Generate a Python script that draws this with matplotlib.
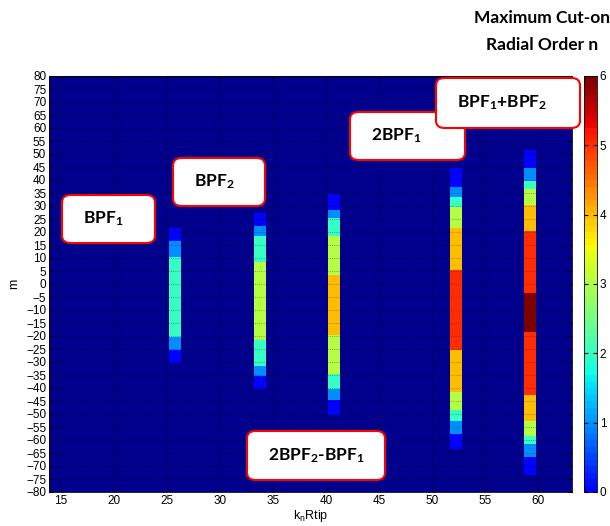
import numpy as np
import matplotlib
matplotlib.use("Agg")
import matplotlib.pyplot as plt
from matplotlib.colors import ListedColormap, Normalize
from matplotlib.patches import FancyBboxPatch
from matplotlib.colorbar import ColorbarBase

plt.rcParams["font.family"] = ["Liberation Sans", "DejaVu Sans"]
plt.rcParams["mathtext.fontset"] = "custom"
plt.rcParams["mathtext.rm"] = "Lato:bold"
plt.rcParams["mathtext.it"] = "Lato:bold"
plt.rcParams["mathtext.bf"] = "Lato:bold"

# kR position of each tone and its runs of (max radial order n, m top, m bottom)
kr_centers = [25.75, 33.8, 40.75, 52.3, 59.25]
bpf1 = [(0, 21, 17), (1, 16, 11), (2, 10, -20), (1, -21, -25), (0, -26, -30)]
bpf2 = [(0, 27, 23), (1, 22, 19), (2, 18, 9), (3, 8, -21), (2, -22, -31),
        (1, -32, -35), (0, -36, -40)]
bpf2x2_m_bpf1 = [(0, 34, 29), (1, 28, 26), (2, 25, 19), (3, 18, 4), (4, 3, -19),
                 (3, -20, -34), (2, -35, -40), (1, -41, -44), (0, -45, -50)]
bpf1x2 = [(0, 44, 38), (1, 37, 34), (2, 33, 30), (3, 29, 22), (4, 21, 6),
          (5, 5, -25), (4, -26, -41), (3, -42, -48), (2, -49, -52),
          (1, -53, -57), (0, -58, -63)]
bpf1_p_bpf2 = [(0, 51, 45), (1, 44, 40), (2, 39, 37), (3, 36, 31), (4, 30, 21),
               (5, 20, -3), (6, -4, -18), (5, -19, -42), (4, -43, -52),
               (3, -53, -58), (2, -59, -61), (1, -62, -66), (0, -67, -73)]
columns = [bpf1, bpf2, bpf2x2_m_bpf1, bpf1x2, bpf1_p_bpf2]

m_vals = np.arange(-80, 81)
col_w = 1.13

cmap = ListedColormap(plt.get_cmap("jet")(np.linspace(0.125, 1.0, 64)))
norm = Normalize(0, 6)
navy = (0, 0, 0.55)

W, H = 610, 526
fig = plt.figure(figsize=(W / 100, H / 100), dpi=100)
ax = fig.add_axes([49 / W, 1 - 492 / H, 523 / W, 416 / H])
ax.set_facecolor(navy)

for kr, runs in zip(kr_centers, columns):
    z = np.full(m_vals.shape, np.nan)
    for n, hi, lo in runs:
        z[(m_vals >= lo) & (m_vals <= hi)] = n
    z = np.ma.masked_invalid(z)[:, None]
    xe = [kr - col_w / 2, kr + col_w / 2]
    ye = np.append(m_vals - 0.5, m_vals[-1] + 0.5)
    ax.pcolormesh(xe, ye, z, cmap=cmap, norm=norm, shading="flat")

ax.set_xlim(13.87, 63.2)
ax.set_ylim(-80, 80)
ax.set_xticks(np.arange(15, 61, 5))
ax.set_yticks(np.arange(-80, 81, 5))
ax.tick_params(direction="in", length=3, labelsize=8.5, pad=2,
               top=True, right=True)
ax.set_axisbelow(False)
ax.grid(True, color="k", linestyle=":", linewidth=0.6, alpha=0.45)
for s in ax.spines.values():
    s.set_linewidth(0.6)
ax.set_ylabel("m", fontsize=9, labelpad=4)
ax.set_xlabel(r"k$_\mathregular{n}$Rtip", fontsize=9, labelpad=1)

cax = fig.add_axes([584 / W, 1 - 492 / H, 13 / W, 416 / H])
cb = ColorbarBase(cax, cmap=cmap, norm=norm, ticks=range(7))
cb.outline.set_linewidth(0.6)
cax.tick_params(direction="in", length=3, labelsize=8.5, pad=2,
                left=True, right=True)

# annotation boxes: (label, left, top, right, bottom) in pixels
boxes = [
    ("BPF$_1$", 62, 195, 155, 243),
    ("BPF$_2$", 173, 158, 265, 206),
    ("2BPF$_1$", 350, 112, 465, 160),
    ("BPF$_1$+BPF$_2$", 436, 78, 580, 128),
    ("2BPF$_2$-BPF$_1$", 247, 431, 385, 480),
]
for label, l, t, r, b in boxes:
    p = FancyBboxPatch((l / W, 1 - b / H), (r - l) / W, (b - t) / H,
                       boxstyle="round,pad=0,rounding_size=0.014",
                       transform=fig.transFigure, facecolor="white",
                       edgecolor="red", linewidth=1.5, zorder=5)
    fig.patches.append(p)
    fig.text((l + 21) / W, 1 - (t + b) / 2 / H, label, ha="left", va="center",
             family="Lato", weight="bold", fontsize=12.5, zorder=6)

fig.text(542 / W, 1 - 18 / H, "Maximum Cut-on", ha="center", va="center",
         family="Lato", weight="bold", fontsize=12.5)
fig.text(542 / W, 1 - 45 / H, "Radial Order n", ha="center", va="center",
         family="Lato", weight="bold", fontsize=12.5)

fig.savefig("out.png", dpi=100)
